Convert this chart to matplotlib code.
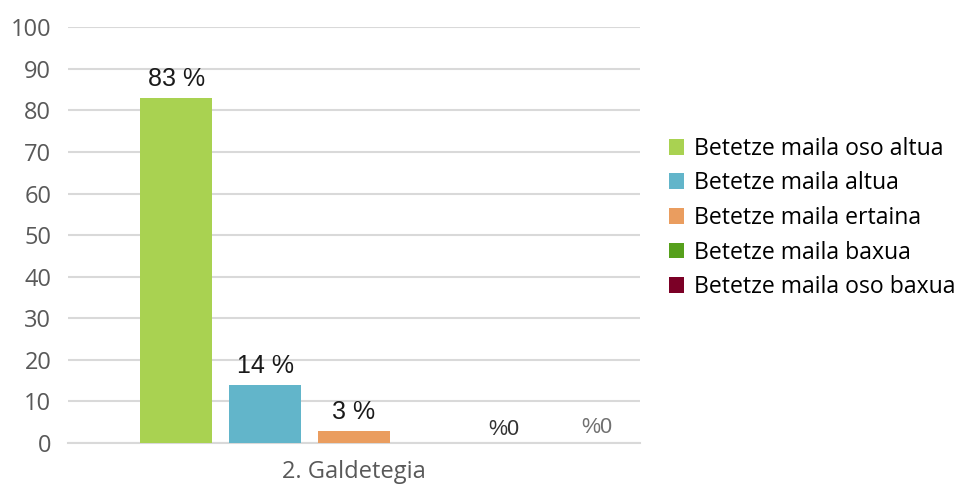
import numpy as np
import matplotlib.pyplot as plt
from matplotlib.patches import Patch

category = "2. Galdetegia"
series = ["Betetze maila oso altua", "Betetze maila altua", "Betetze maila ertaina",
          "Betetze maila baxua", "Betetze maila oso baxua"]
values = [83, 14, 3, 0, 0]
labels = ["83 %", "14 %", "3 %", "%0", "%0"]
colors = ["#A9D251", "#62B5CA", "#EA9D5F", "#56A01C", "#7B0026"]

fig = plt.figure(figsize=(9.66, 4.86), dpi=100)
ax = fig.add_axes([0.0704, 0.0885, 0.592, 0.8555])

pos = np.arange(len(values)) - 2
ax.bar(pos, values, width=0.8, color=colors, zorder=3)

# value labels
for i, (p, v, lab) in enumerate(zip(pos, values, labels)):
    if v > 0:
        ax.text(p, v + 1.6, lab, ha="center", va="bottom", fontsize=18,
                family="Liberation Sans", color="#1a1a1a")
    else:
        dx = 0.685 if i == 3 else 0.73
        dy = 0.8 if i == 3 else 1.3
        ax.text(p + dx, v + dy, lab, ha="center", va="bottom", fontsize=15.5,
                family="Liberation Sans", color="#333333" if i == 3 else "#707070")

ax.set_xlim(-3.215, 3.215)
ax.set_ylim(0, 100)
ax.set_yticks(range(0, 101, 10))
ax.tick_params(axis="y", length=0, labelsize=17, labelcolor="#595959", pad=12)
ax.set_xticks([0])
ax.set_xticklabels([category], fontsize=17, color="#595959", family="Open Sans")
ax.tick_params(axis="x", length=0, pad=12)
for lbl in ax.get_yticklabels():
    lbl.set_family("Open Sans")
ax.grid(axis="y", color="#d9d9d9", linewidth=1.5, zorder=0)
for s in ["top", "right", "left"]:
    ax.spines[s].set_visible(False)
ax.spines["bottom"].set_color("#d9d9d9")
ax.spines["bottom"].set_linewidth(1.5)

handles = [Patch(facecolor=c, label=s) for c, s in zip(colors, series)]
fig.legend(handles=handles, loc="center left", bbox_to_anchor=(0.681, 0.5514),
           frameon=False, prop={"family": "Open Sans", "size": 16.6}, borderpad=0,
           handlelength=0.63, handleheight=0.68, handletextpad=0.42, labelspacing=0.46)

fig.savefig("out.png", dpi=100)
